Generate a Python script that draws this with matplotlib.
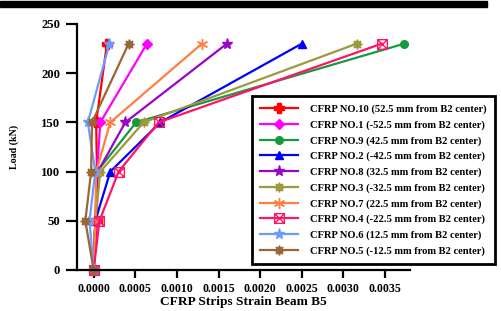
import matplotlib
matplotlib.use("Agg")
import matplotlib.pyplot as plt
from matplotlib.path import Path
from matplotlib.patches import Rectangle

load = [0, 50, 100, 150, 230]
labels = [
    "CFRP NO.10 (52.5 mm from B2 center)",
    "CFRP NO.1 (-52.5 mm from B2 center)",
    "CFRP NO.9 (42.5 mm from B2 center)",
    "CFRP NO.2 (-42.5 mm from B2 center)",
    "CFRP NO.8 (32.5 mm from B2 center)",
    "CFRP NO.3 (-32.5 mm from B2 center)",
    "CFRP NO.7 (22.5 mm from B2 center)",
    "CFRP NO.4 (-22.5 mm from B2 center)",
    "CFRP NO.6 (12.5 mm from B2 center)",
    "CFRP NO.5 (-12.5 mm from B2 center)",
]
no10 = [0, 0.00004, 0.00004, 0.00003, 0.00016]
no1 = [0, 0.00003, 0.00004, 0.00008, 0.00064]
no9 = [0, 0.00002, 0.00004, 0.00051, 0.00373]
no2 = [0, 0.00002, 0.00020, 0.00080, 0.00250]
no8 = [0, 0.00002, 0.00005, 0.00038, 0.00160]
no3 = [0, 0.00002, 0.00008, 0.00060, 0.00316]
no7 = [0, 0.00002, 0.00003, 0.00020, 0.00130]
no4 = [0, 0.00007, 0.00030, 0.00078, 0.00346]
no6 = [0, -0.00005, 0.00002, -0.00007, 0.00019]
no5 = [0, -0.00010, -0.00003, -0.00002, 0.00042]
series = [no10, no1, no9, no2, no8, no3, no7, no4, no6, no5]

xticks = [0.0, 0.0005, 0.0010, 0.0015, 0.0020, 0.0025, 0.0030, 0.0035]
yticks = [0, 50, 100, 150, 200, 250]

boxx = Path([(-1, -1), (1, -1), (1, 1), (-1, 1), (-1, -1), (-1, -1), (1, 1), (-1, 1), (1, -1)],
            [Path.MOVETO, Path.LINETO, Path.LINETO, Path.LINETO, Path.CLOSEPOLY,
             Path.MOVETO, Path.LINETO, Path.MOVETO, Path.LINETO])

styles = [
    dict(color="#ff0000", marker="P", ms=7),
    dict(color="#ff00ff", marker="D", ms=5.5),
    dict(color="#179a3c", marker="o", ms=5.5),
    dict(color="#0000ff", marker="^", ms=6),
    dict(color="#9a06c8", marker="*", ms=8),
    dict(color="#9c9a3a", marker=(8, 1, 0), ms=7),
    dict(color="#ff7f40", marker=(6, 2, 0), ms=8, mew=1.0),
    dict(color="#ff1466", marker=boxx, ms=7, mfc="none", mew=1.0),
    dict(color="#6a9cff", marker="*", ms=8),
    dict(color="#9a6634", marker=(8, 1, 0), ms=7),
]

plt.rcParams["font.family"] = ["Liberation Serif", "DejaVu Serif"]
plt.rcParams["font.weight"] = "bold"

fig = plt.figure(figsize=(5.01, 3.11), dpi=100)
ax = fig.add_axes([77 / 501, (311 - 270) / 311, (410 - 77) / 501, (270 - 24) / 311])

for vals, lab, st in zip(series, labels, styles):
    ax.plot(vals, load, label=lab, lw=1.6, clip_on=False, **st)

ax.set_xlim(-0.0002, 0.0038)
ax.set_ylim(0, 250)
ax.set_xticks(xticks)
ax.set_xticklabels(["%.4f" % v for v in xticks])
ax.set_yticks(yticks)
for s in ["top", "right"]:
    ax.spines[s].set_visible(False)
for s in ["left", "bottom"]:
    ax.spines[s].set_linewidth(1.6)
ax.tick_params(axis="x", direction="out", length=6, width=1.6, labelsize=8.6, pad=3)
ax.tick_params(axis="y", direction="out", length=8, width=1.6, labelsize=9.2, pad=4)
for t in ax.get_xticklabels() + ax.get_yticklabels():
    t.set_fontweight("bold")
ax.set_xlabel("CFRP Strips Strain Beam B5", fontsize=9.6, fontweight="bold", labelpad=1)
ax.set_ylabel("Load (kN)", fontsize=7.2, fontweight="bold")
ax.yaxis.set_label_coords(-0.175, 0.5)

leg = fig.legend(loc="upper left", bbox_to_anchor=(252 / 501, (311 - 96) / 311),
                 bbox_transform=fig.transFigure, prop=dict(size=7.6, weight="bold"),
                 frameon=True, fancybox=False, edgecolor="black", framealpha=1,
                 handlelength=3.6, handletextpad=1.1, labelspacing=0.58,
                 borderpad=0.8, borderaxespad=0)
leg.get_frame().set_linewidth(2)

fig.add_artist(Rectangle((0, (311 - 7) / 311), 487 / 501, 6 / 311,
                         transform=fig.transFigure, color="black"))

fig.savefig("out.png", dpi=100)
